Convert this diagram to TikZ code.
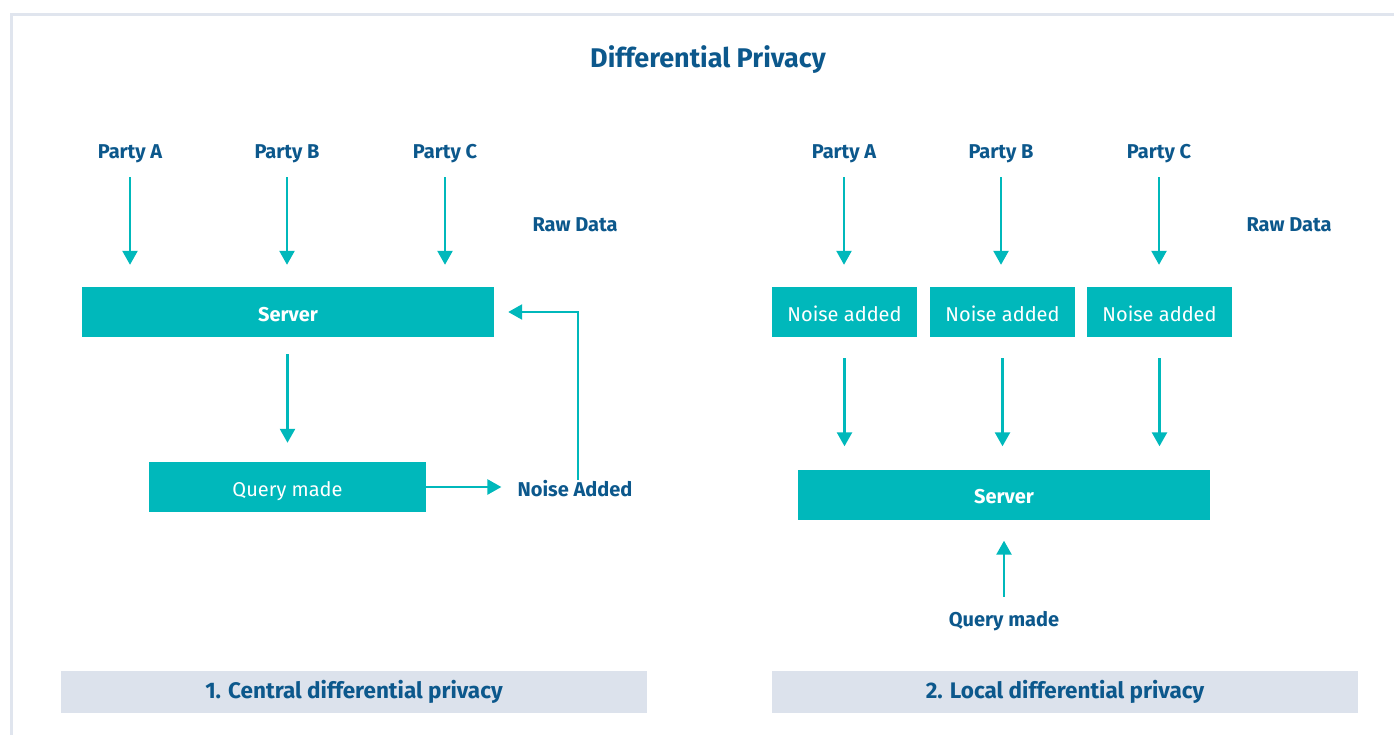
\documentclass[tikz,border=0pt]{standalone}
\usepackage{fontspec}
\setmainfont{Fira Sans}
\usetikzlibrary{arrows.meta, positioning}

\definecolor{dpteal}{RGB}{0,184,187}
\definecolor{dpblue}{RGB}{12,88,140}
\definecolor{dpbar}{RGB}{220,226,236}
\definecolor{dpframe}{RGB}{224,229,238}

\tikzset{
  box/.style={fill=dpteal, text=white, minimum height=50pt, inner sep=0pt,
    text height=18pt, text depth=0pt, font=\fontsize{20}{24}\selectfont},
  lbl/.style={text=dpblue, inner sep=2pt, text height=14pt, text depth=4pt,
    font=\fontsize{20}{23}\selectfont\bfseries},
  flow/.style={draw=dpteal, line width=2.5pt, -{Triangle[length=14pt,width=15pt]}},
  bar/.style={fill=dpbar, minimum width=586pt, minimum height=42pt, inner sep=0pt,
    text=dpblue, font=\fontsize{22.5}{26}\selectfont\bfseries}
}

\begin{document}
\begin{tikzpicture}[x=1pt, y=-1pt]
    \useasboundingbox (0,0) rectangle (1394,735);

    % Frame
    \draw[dpframe, line width=3pt] (11,735) -- (11,15) -- (1394,15);

    % Title
    \node[text=dpblue, font=\fontsize{27}{30}\selectfont\bfseries] (title) at (708,60) {Differential Privacy};

    % Central: parties
    \node[lbl] (ca) at (130,154) {Party A};
    \node[lbl] (cb) at (287,154) {Party B};
    \node[lbl] (cc) at (445,154) {Party C};
    \node[lbl] (craw) at (575,227) {Raw Data};

    % Central: server and query
    \node[box, minimum width=412pt, font=\fontsize{20}{24}\selectfont\bfseries] (csrv) at (288,312) {Server};
    \node[box, minimum width=277pt] (cq) at (287.5,487) {Query made};
    \node[lbl] (cnoise) at (575,491) {Noise Added};

    \draw[flow, shorten <=12pt, shorten >=22pt] (ca.south) -- (ca.south |- csrv.north);
    \draw[flow, shorten <=12pt, shorten >=22pt] (cb.south) -- (cb.south |- csrv.north);
    \draw[flow, shorten <=12pt, shorten >=22pt] (cc.south) -- (cc.south |- csrv.north);
    \draw[flow, shorten <=17pt, shorten >=19pt] (csrv.south -| cq.north) -- (cq.north);
    \draw[flow, shorten >=14pt] (cq.east) -- (cq.east -| cnoise.west);
    \draw[flow, shorten >=14pt] (cnoise.north -| 578,0) |- (csrv.east);

    % Local: parties
    \node[lbl] (la) at (844,154) {Party A};
    \node[lbl] (lb) at (1001,154) {Party B};
    \node[lbl] (lc) at (1159,154) {Party C};
    \node[lbl] (lraw) at (1289,227) {Raw Data};

    % Local: noise boxes, server, query
    \node[box, minimum width=145pt] (na) at (844.5,312) {Noise added};
    \node[box, minimum width=145pt] (nb) at (1002.5,312) {Noise added};
    \node[box, minimum width=145pt] (nc) at (1159.5,312) {Noise added};
    \node[box, minimum width=412pt, font=\fontsize{20}{24}\selectfont\bfseries] (lsrv) at (1004,494.5) {Server};
    \node[lbl] (lq) at (1004,621) {Query made};

    \draw[flow, shorten <=12pt, shorten >=22pt] (la.south) -- (la.south |- na.north);
    \draw[flow, shorten <=12pt, shorten >=22pt] (lb.south) -- (lb.south |- nb.north);
    \draw[flow, shorten <=12pt, shorten >=22pt] (lc.south) -- (lc.south |- nc.north);
    \draw[flow, shorten <=21pt, shorten >=23pt] (na.south) -- (na.south |- lsrv.north);
    \draw[flow, shorten <=21pt, shorten >=23pt] (nb.south) -- (nb.south |- lsrv.north);
    \draw[flow, shorten <=21pt, shorten >=23pt] (nc.south) -- (nc.south |- lsrv.north);
    \draw[flow, shorten <=13pt, shorten >=21pt] (lq.north) -- (lq.north |- lsrv.south);

    % Captions
    \node[bar] (ccap) at (354,692) {1. Central differential privacy};
    \node[bar] (lcap) at (1065,692) {2. Local differential privacy};
\end{tikzpicture}
\end{document}
